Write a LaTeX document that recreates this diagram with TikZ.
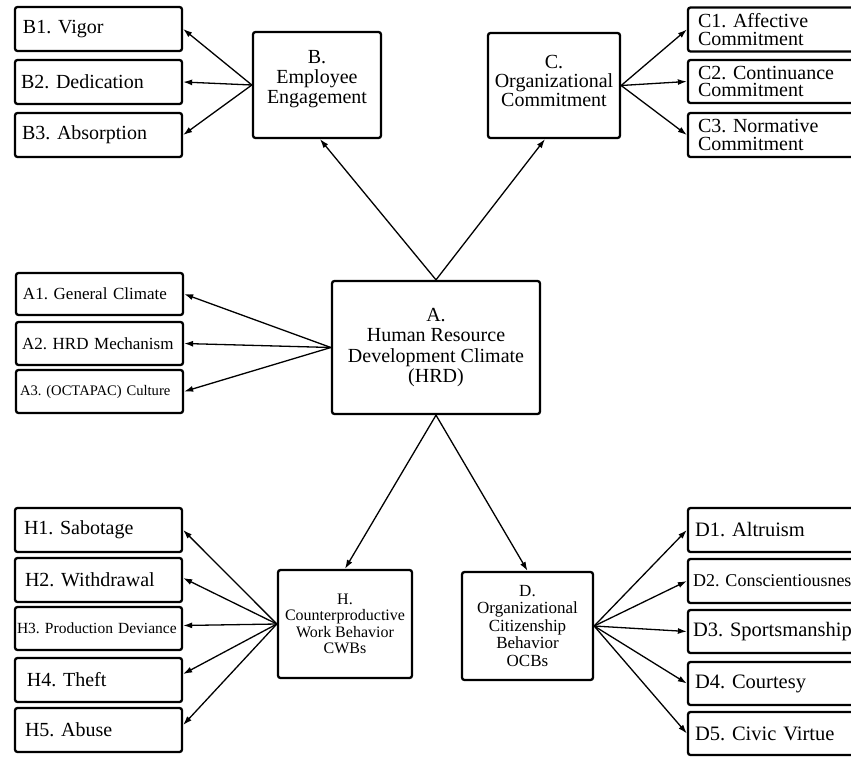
\documentclass[tikz,border=0pt]{standalone}
\usepackage{fontspec}
\setmainfont{Liberation Serif}
\usetikzlibrary{arrows.meta}
\newcommand\setfs[2]{\fontsize{#1}{#2}\selectfont}
\begin{document}
\frenchspacing
\begin{tikzpicture}[x=1pt,y=-1pt,
  box/.style={draw, line width=2.3pt, rounded corners=2.5pt, align=center, inner sep=0pt},
  item/.style={draw, line width=2.3pt, rounded corners=2.5pt, minimum height=44pt,
    inner xsep=8pt, inner ysep=0pt, text width=151pt, align=left, font=\setfs{20}{20}},
  ritem/.style={item, inner xsep=7pt, text width=161pt},
  twoline/.style={font=\setfs{20}{17.5}},
  link/.style={line width=1.3pt, -{Latex[length=9pt,width=6pt]}}
]
\useasboundingbox (0,0) rectangle (851,757);
\clip (0,0) rectangle (851,757);

% central construct
\node[box, minimum width=208pt, minimum height=133pt, font=\setfs{20}{20.5}] (A) at (436,347.5)
  {A.\\Human Resource\\Development Climate\\(HRD)};

% outcome constructs
\node[box, minimum width=128pt, minimum height=106pt, font=\setfs{20}{20}, text depth=16pt] (B) at (317,85)
  {B.\\Employee\\Engagement};
\node[box, minimum width=132pt, minimum height=105pt, font=\setfs{20}{19}, text depth=10pt] (C) at (554,85.5)
  {C.\\Organizational\\Commitment};
\node[box, minimum width=134pt, minimum height=108pt, font=\setfs{16}{16.5}] (H) at (345,624)
  {H.\\Counterproductive\\Work Behavior\\CWBs};
\node[box, minimum width=131pt, minimum height=108pt, font=\setfs{17}{17.5}] (D) at (527.5,626)
  {D.\\Organizational\\Citizenship\\Behavior\\OCBs};

% dimensions of B
\node[item] (B1) at (98.5,29) {B1. Vigor};
\node[item, inner xsep=6pt, text width=155pt] (B2) at (98.5,82) {B2. Dedication};
\node[item, inner xsep=7pt, text width=153pt] (B3) at (98.5,135) {B3. Absorption};

% dimensions of C
\node[ritem, twoline, inner xsep=10pt, text width=155pt] (C1) at (775.5,29.5) {C1. Affective\\Commitment};
\node[ritem, twoline, inner xsep=10pt, text width=155pt, minimum height=43pt] (C2) at (775.5,81.5) {C2. Continuance\\Commitment};
\node[ritem, twoline, inner xsep=10pt, text width=155pt] (C3) at (775.5,135) {C3. Normative\\Commitment};

% dimensions of A
\node[item, minimum height=42pt, inner xsep=7pt, text width=153pt, font=\setfs{17}{17}] (A1) at (99.5,294) {A1. General Climate};
\node[item, minimum height=43pt, inner xsep=6pt, text width=155pt, font=\setfs{17}{17}] (A2) at (99.5,343.5) {A2. HRD Mechanism};
\node[item, minimum height=43pt, inner xsep=4pt, text width=159pt, font=\setfs{14.6}{14.6}] (A3) at (99.5,391.5) {\mbox{A3. (OCTAPAC) Culture}};

% dimensions of H
\node[item, inner xsep=9pt, text width=149pt] (H1) at (98.5,530) {H1. Sabotage};
\node[item, inner xsep=10pt, text width=147pt] (H2) at (98.5,580) {H2. Withdrawal};
\node[item, minimum height=43pt, inner xsep=2pt, text width=163pt, font=\setfs{15.5}{15.5}] (H3) at (98.5,628.5) {\mbox{H3. Production Deviance}};
\node[item, inner xsep=12pt, text width=143pt] (H4) at (98.5,680) {H4. Theft};
\node[item, inner xsep=10pt, text width=147pt] (H5) at (98.5,730) {H5. Abuse};

% dimensions of D
\node[ritem, font=\setfs{20.5}{20.5}] (D1) at (775.5,530) {D1. Altruism};
\node[ritem, inner xsep=5pt, text width=165pt, font=\setfs{18}{18}] (D2) at (775.5,581) {\mbox{D2. Conscientiousness}};
\node[ritem, minimum height=43pt, inner xsep=5pt, text width=165pt, font=\setfs{20.5}{20.5}] (D3) at (775.5,631.5) {\mbox{D3. Sportsmanship}};
\node[ritem, minimum height=43pt, font=\setfs{20.5}{20.5}] (D4) at (775.5,683.5) {D4. Courtesy};
\node[ritem, minimum height=43pt, font=\setfs{20.5}{20.5}] (D5) at (775.5,733.5) {D5. Civic Virtue};

% paths from the central construct
\draw[link] (A.north) -- ([xshift=3pt]B.south);
\draw[link] (A.north) -- ([xshift=-9pt]C.south);
\draw[link] (A.south) -- (H.north);
\draw[link] (A.south) -- (D.north);

% construct-to-dimension arrows
\foreach \i in {1,2,3} \draw[link] (B.west) -- (B\i.east);
\foreach \i in {1,2,3} \draw[link] (C.east) -- (C\i.west);
\foreach \i in {1,2,3} \draw[link] (A.west) -- (A\i.east);
\draw[link] (H.west) -- (H1.east);
\draw[link] (H.west) -- ([yshift=2pt]H2.east);
\draw[link] (H.west) -- ([yshift=3pt]H3.east);
\draw[link] (H.west) -- ([yshift=6pt]H4.east);
\draw[link] (H.west) -- ([yshift=5pt]H5.east);
\foreach \i in {1,...,5} \draw[link] (D.east) -- (D\i.west);
\end{tikzpicture}
\end{document}
